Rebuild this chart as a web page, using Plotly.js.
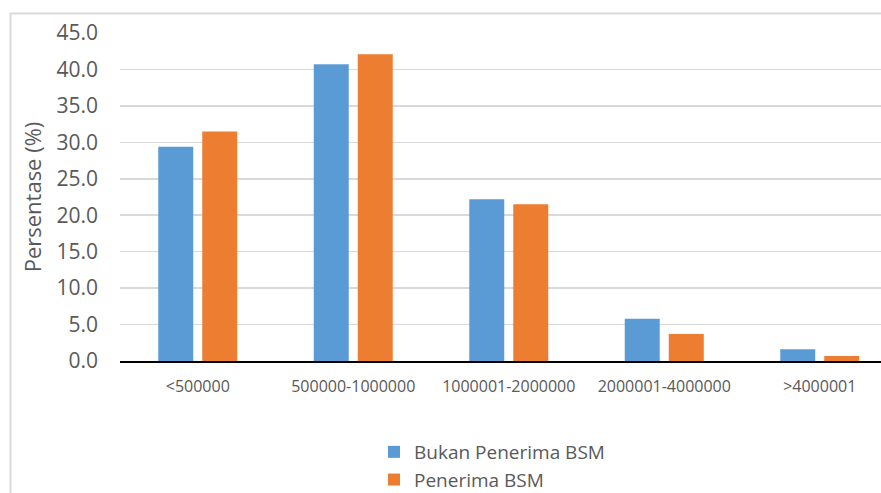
<!DOCTYPE html>
<html>
<head>
<meta charset="utf-8">
<script src="https://cdn.plot.ly/plotly-3.0.1.min.js"></script>
<style>html,body{margin:0;padding:0;background:#fff;}#chart{width:881px;height:493px;}</style>
</head>
<body>
<div id="chart"></div>
<script>
const categories = ["<500000", "500000-1000000", "1000001-2000000", "2000001-4000000", ">4000001"];
const bukanPenerima = [29.4, 40.7, 22.2, 5.8, 1.6];
const penerima = [31.5, 42.1, 21.5, 3.7, 0.7];
const seriesNames = ["Bukan Penerima BSM", "Penerima BSM"];
const yTicks = [0, 5, 10, 15, 20, 25, 30, 35, 40, 45];

const W = 881, H = 493;
const mL = 120, mR = 0, mT = 33, mB = 132;
const plotW = W - mL - mR, plotH = H - mT - mB;
const px = x => (x - mL) / plotW;
const py = y => (H - mB - y) / plotH;
const catW = 155.5;

const textColor = '#595959';
const font = "'Open Sans', 'Liberation Sans', sans-serif";

const traces = [
  {type: 'bar', name: seriesNames[0], x: categories, y: bukanPenerima, marker: {color: '#5B9BD5'}},
  {type: 'bar', name: seriesNames[1], x: categories, y: penerima, marker: {color: '#ED7D31'}}
];

const layout = {
  width: W, height: H,
  margin: {l: mL, r: mR, t: mT, b: mB, pad: 0, autoexpand: false},
  paper_bgcolor: '#fff', plot_bgcolor: '#fff',
  barmode: 'group', bargap: 0.434, bargroupgap: 0.205,
  font: {family: font, color: textColor},
  showlegend: true,
  legend: {
    orientation: 'v', x: px(374), y: py(433), xanchor: 'left', yanchor: 'top',
    font: {family: font, size: 19, color: textColor},
    bgcolor: 'rgba(0,0,0,0)', tracegroupgap: 0
  },
  xaxis: {
    type: 'category', range: [-0.5, -0.5 + plotW / catW],
    showgrid: false, showline: true, linecolor: '#000', linewidth: 1.5,
    ticks: '', ticklabelstandoff: 10,
    tickfont: {family: font, size: 16, color: textColor},
    fixedrange: true
  },
  yaxis: {
    range: [0, 45], tickvals: yTicks, tickformat: '.1f',
    showgrid: true, gridcolor: '#D9D9D9', gridwidth: 1.5,
    zeroline: false, showline: false, ticks: '', ticklabelstandoff: 21,
    tickfont: {family: font, size: 21, color: textColor},
    title: {text: 'Persentase (%)', font: {family: font, size: 22, color: textColor}, standoff: 8},
    fixedrange: true
  },
  shapes: [{
    type: 'path', xref: 'paper', yref: 'paper',
    path: 'M ' + px(10.5) + ' ' + py(H + 5) + ' L ' + px(10.5) + ' ' + py(13.5) + ' L ' + px(W + 5) + ' ' + py(13.5),
    line: {color: '#D9D9D9', width: 2}
  }]
};

Plotly.newPlot('chart', traces, layout, {displayModeBar: false, staticPlot: true});
</script>
</body>
</html>
